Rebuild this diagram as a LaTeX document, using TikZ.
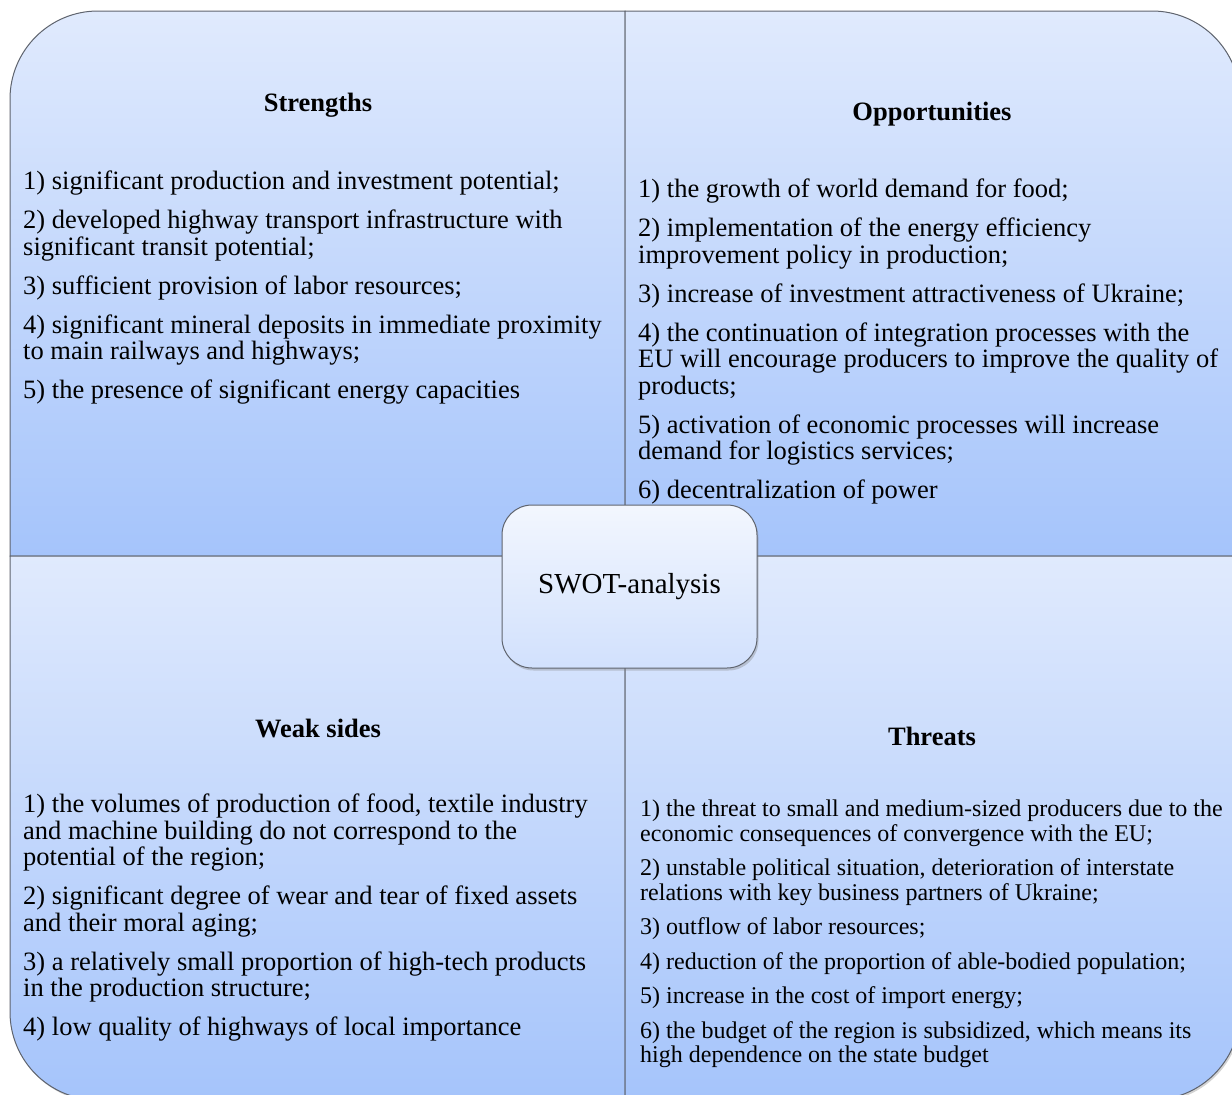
\documentclass[tikz,border=0pt]{standalone}
\usepackage{fontspec}
\setmainfont{Liberation Serif}
\usepackage{tikz}
\usetikzlibrary{positioning, shadows}
\definecolor{swotlight}{RGB}{224,234,253}
\definecolor{swotdeep}{RGB}{165,196,251}
\definecolor{swotedge}{RGB}{95,100,110}
\tikzset{
    quadrant/.style={
        draw=swotedge,
        line width=1pt,
        top color=swotlight,
        bottom color=swotdeep,
        drop shadow={opacity=0.35, shadow xshift=1.5pt, shadow yshift=-2pt}
    },
    hub/.style={
        rectangle,
        rounded corners=30pt,
        draw=swotedge,
        line width=1pt,
        top color=swotlight!40!white,
        bottom color=swotlight!75!swotdeep,
        minimum width=255pt,
        minimum height=163pt,
        font=\fontsize{29}{30}\selectfont,
        drop shadow={opacity=0.35, shadow xshift=1.5pt, shadow yshift=-2.5pt}
    },
    heading/.style={
        inner sep=0pt,
        font=\fontsize{26.5}{26.5}\selectfont\bfseries
    },
    itemlist/.style={
        anchor=north west,
        inner sep=0pt,
        align=left,
        font=\fontsize{26.5}{26.5}\selectfont
    },
    smalllist/.style={
        itemlist,
        font=\fontsize{24}{24.5}\selectfont
    }
}

\begin{document}
\begin{tikzpicture}[x=1pt, y=-1pt]

\clip (0,0) rectangle (1232,1095);

% Quadrants
\path[quadrant] (625,556) -- (625,11) [rounded corners=88pt] -- (10,11) [sharp corners] -- (10,556) -- cycle;
\path[quadrant] (625,556) -- (625,11) [rounded corners=88pt] -- (1240,11) [sharp corners] -- (1240,556) -- cycle;
\path[quadrant] (625,556) -- (10,556) [rounded corners=88pt] -- (10,1100) [sharp corners] -- (625,1100) -- cycle;
\path[quadrant] (625,556) -- (1240,556) [rounded corners=88pt] -- (1240,1100) [sharp corners] -- (625,1100) -- cycle;

% Strengths
\node[heading] (strengths) at (318,105) {Strengths};
\node[itemlist] (strlist) at (23,171) {1) significant production and investment potential;\\[12.5pt]
2) developed highway transport infrastructure with\\
significant transit potential;\\[12.5pt]
3) sufficient provision of labor resources;\\[12.5pt]
4) significant mineral deposits in immediate proximity\\
to main railways and highways;\\[12.5pt]
5) the presence of significant energy capacities};

% Opportunities
\node[heading] (opport) at (932,114) {Opportunities};
\node[itemlist] (opplist) at (638,179) {1) the growth of world demand for food;\\[12.5pt]
2) implementation of the energy efficiency\\
improvement policy in production;\\[12.5pt]
3) increase of investment attractiveness of Ukraine;\\[12.5pt]
4) the continuation of integration processes with the\\
EU will encourage producers to improve the quality of\\
products;\\[12.5pt]
5) activation of economic processes will increase\\
demand for logistics services;\\[12.5pt]
6) decentralization of power};

% Weak sides
\node[heading] (weak) at (318,728) {Weak sides};
\node[itemlist] (weaklist) at (23,794) {1) the volumes of production of food, textile industry\\
and machine building do not correspond to the\\
potential of the region;\\[12.5pt]
2) significant degree of wear and tear of fixed assets\\
and their moral aging;\\[12.5pt]
3) a relatively small proportion of high-tech products\\
in the production structure;\\[12.5pt]
4) low quality of highways of local importance};

% Threats
\node[heading] (threats) at (932,736) {Threats};
\node[smalllist] (thrlist) at (640,800) {1) the threat to small and medium-sized producers due to the\\
economic consequences of convergence with the EU;\\[10pt]
2) unstable political situation, deterioration of interstate\\
relations with key business partners of Ukraine;\\[10pt]
3) outflow of labor resources;\\[10pt]
4) reduction of the proportion of able-bodied population;\\[10pt]
5) increase in the cost of import energy;\\[10pt]
6) the budget of the region is subsidized, which means its\\
high dependence on the state budget};

% Centre
\node[hub] (swot) at (629.5,586.5) {SWOT-analysis};

\end{tikzpicture}
\end{document}
